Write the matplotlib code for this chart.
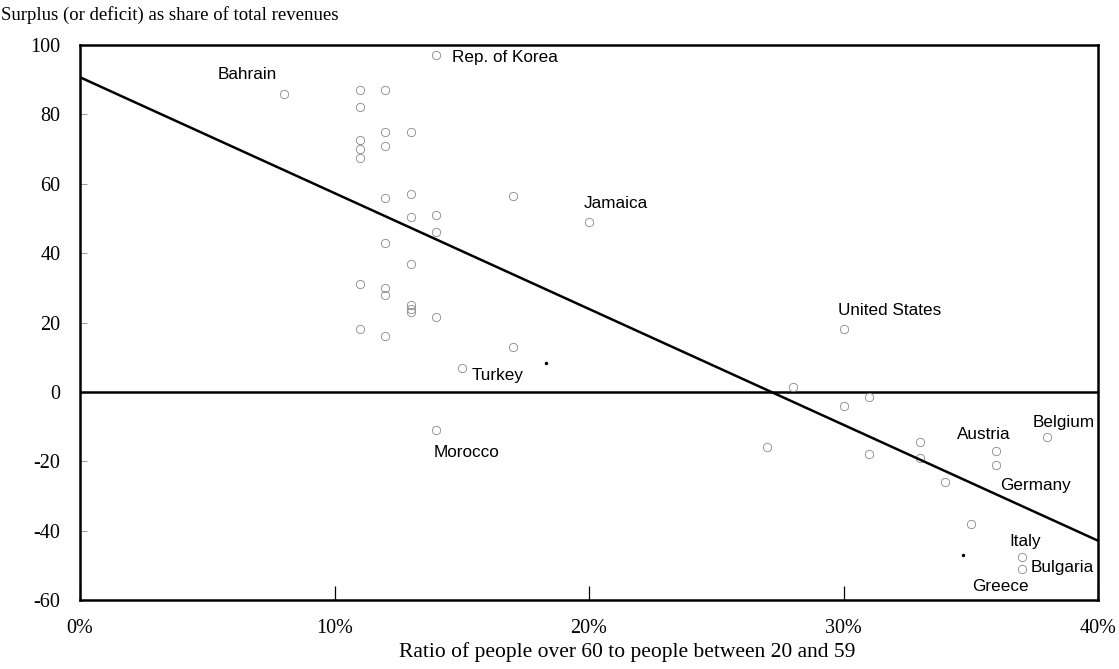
import numpy as np
import matplotlib
matplotlib.use("Agg")
from matplotlib import pyplot as plt
from matplotlib.ticker import FuncFormatter

plt.rcParams["axes.unicode_minus"] = False

# share of people over 60 relative to 20-59 (percent) and surplus/deficit share
old_age_ratio = [14, 8, 11, 12, 11, 12, 13, 11, 12, 11, 11, 12, 13, 17,
                 13, 14, 14, 12, 13, 11, 12, 12, 13, 13, 13, 14, 11, 12,
                 17, 20, 15, 14, 27, 28, 30, 31, 31, 30, 33, 33, 34, 35,
                 36, 36, 38, 37, 37]
surplus_share = [97, 86, 87, 87, 82, 75, 75, 72.5, 71, 70, 67.5, 56, 57, 56.5,
                 50.5, 51, 46, 43, 37, 31, 30, 28, 25, 24, 23, 21.5, 18, 16,
                 13, 49, 7, -11, -16, 1.5, -4, -1.5, -18, 18, -14.5, -19, -26, -38,
                 -17, -21, -13, -47.5, -51]

# two tiny specks without a country
speck_ratio = [18.3, 34.7]
speck_share = [8.4, -47]

# fitted trend line
fit_x = [0, 40]
fit_y = [90.7, -42.9]

countries = ["Rep. of Korea", "Bahrain", "Jamaica", "United States", "Turkey",
             "Morocco", "Austria", "Belgium", "Germany", "Italy", "Bulgaria",
             "Greece"]
# where each country name sits (data units, left edge / vertical centre)
label_pos = [(14.6, 96.5), (5.4, 91.6), (19.8, 54.2), (29.8, 23.5),
             (15.4, 4.6), (13.9, -17.4), (34.45, -12.2), (37.44, -8.7),
             (36.14, -27), (36.5, -43.2), (37.36, -50.7), (35.04, -56.2)]

y_ticks = [100, 80, 60, 40, 20, 0, -20, -40, -60]
x_ticks = [0, 10, 20, 30, 40]

fig = plt.figure(figsize=(11.19, 6.69), dpi=100)
ax = fig.add_axes([80 / 1119, 1 - 600 / 669, (1098 - 80) / 1119, (600 - 45) / 669])

serif = ["Liberation Serif", "DejaVu Serif"]
sans = ["Liberation Sans", "DejaVu Sans"]

ax.plot(old_age_ratio, surplus_share, linestyle="", marker="o", ms=6,
        mfc="none", mec="#888888", mew=0.6, zorder=3)
ax.plot(speck_ratio, speck_share, linestyle="", marker=".", ms=3,
        color="black", zorder=3)
ax.plot(fit_x, fit_y, color="black", lw=1.8, zorder=4)
ax.axhline(0, color="black", lw=1.8, zorder=2)

for name, (lx, ly) in zip(countries, label_pos):
    ax.text(lx, ly, name, family=sans, fontsize=12.3, ha="left", va="center")

ax.set_xlim(0, 40)
ax.set_ylim(-60, 100)
ax.set_xticks(x_ticks)
ax.set_yticks(y_ticks)
ax.xaxis.set_major_formatter(FuncFormatter(lambda v, p: "%d%%" % v))
ax.tick_params(axis="x", direction="in", length=10, width=0.9, color="black",
               pad=14, labelsize=14.5)
ax.tick_params(axis="y", direction="in", length=5, width=0.6, color="#888888",
               pad=14, labelsize=14.5)
for lab in ax.get_xticklabels() + ax.get_yticklabels():
    lab.set_family(serif)

for sp in ax.spines.values():
    sp.set_linewidth(1.8)

fig.text(0.001, 1 - 15 / 669, "Surplus (or deficit) as share of total revenues",
         family=serif, fontsize=13.5, ha="left", va="center")
fig.text(627 / 1119, 1 - 652 / 669, "Ratio of people over 60 to people between 20 and 59",
         family=serif, fontsize=15.5, ha="center", va="center")

fig.savefig("out.png", dpi=100)
